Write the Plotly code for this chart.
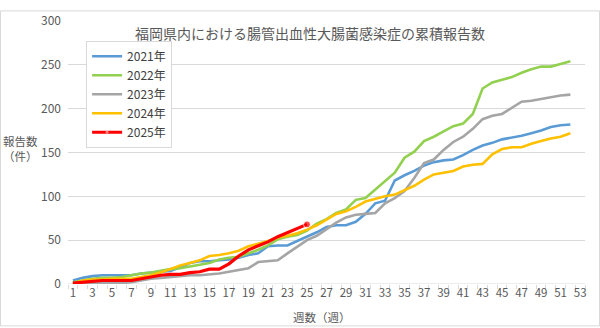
import plotly.graph_objects as go

weeks = list(range(1, 53))
weeks_2025 = list(range(1, 26))

y2021 = [4, 7, 9, 10, 10, 10, 10, 12, 13, 14, 15, 19, 24, 26, 26, 27, 28, 30, 33, 35,
         43, 44, 44, 49, 54, 59, 65, 67, 67, 71, 80, 92, 95, 118, 124, 129, 135, 139, 141, 142,
         147, 153, 158, 161, 165, 167, 169, 172, 175, 179, 181, 182]
y2022 = [2, 4, 6, 7, 7, 8, 10, 12, 13, 15, 17, 18, 20, 22, 24, 28, 30, 31, 35, 39,
         44, 51, 54, 56, 61, 69, 74, 81, 85, 96, 98, 108, 117, 127, 144, 151, 163, 168, 174, 180,
         183, 194, 223, 230, 233, 236, 241, 245, 248, 248, 251, 254]
y2023 = [1, 1, 1, 1, 1, 1, 2, 4, 6, 7, 8, 9, 10, 10, 11, 12, 14, 16, 18, 25,
         26, 27, 35, 43, 50, 55, 63, 70, 76, 79, 80, 81, 92, 98, 106, 121, 138, 142, 153, 162,
         168, 177, 188, 192, 194, 201, 208, 209, 211, 213, 215, 216]
y2024 = [0, 4, 5, 5, 6, 6, 6, 8, 10, 13, 17, 21, 24, 27, 32, 33, 35, 38, 43, 46,
         49, 53, 55, 58, 62, 67, 74, 80, 83, 88, 94, 97, 100, 102, 107, 112, 119, 125, 127, 129,
         134, 136, 137, 148, 154, 156, 156, 160, 163, 166, 168, 172]
y2025 = [1, 2, 3, 4, 4, 4, 4, 6, 8, 10, 11, 11, 13, 14, 17, 17, 23, 32, 39, 44,
         48, 54, 59, 63, 68]

series_names = ["2021年", "2022年", "2023年", "2024年", "2025年"]
colors = ["#5B9BD5", "#92D050", "#A5A5A5", "#FFC000", "#FF0000"]

x_ticks = list(range(1, 54, 2))
y_ticks = [0, 50, 100, 150, 200, 250, 300]

FONT = "Noto Sans CJK JP"
TXT = "#595959"

fig = go.Figure()
for name, ys, col in zip(series_names[:4], [y2021, y2022, y2023, y2024], colors[:4]):
    fig.add_trace(go.Scatter(x=weeks, y=ys, mode="lines", name=name,
                             line=dict(color=col, width=2.6)))

n = len(y2025)
fig.add_trace(go.Scatter(x=weeks_2025, y=y2025, mode="lines+markers", name=series_names[4],
                         line=dict(color=colors[4], width=3.2),
                         marker=dict(size=[0] * (n - 1) + [7], color=colors[4])))

fig.update_layout(
    width=600, height=328,
    margin=dict(l=68, r=15, t=11, b=44),
    paper_bgcolor="white", plot_bgcolor="white",
    font=dict(family=FONT, color=TXT, size=12),
    showlegend=True,
    legend=dict(x=0.035, y=0.925, xanchor="left", yanchor="top",
                bgcolor="white", bordercolor="#D9D9D9", borderwidth=1,
                font=dict(size=12, color="#404040"), tracegroupgap=0, itemwidth=30),
    xaxis=dict(range=[0.5, 53.5], tickvals=x_ticks, ticktext=[str(v) for v in x_ticks],
               showgrid=False, zeroline=False, showline=False, ticks="",
               tickfont=dict(size=11.5, color=TXT),
               minor=dict(tickvals=[k + 0.5 for k in range(0, 54)], ticks="outside",
                          ticklen=4, tickcolor="#D9D9D9", tickwidth=1, showgrid=False)),
    yaxis=dict(range=[0, 300], tickvals=y_ticks, showgrid=True, gridcolor="#D9D9D9",
               gridwidth=1, zeroline=False, showline=False, ticks="",
               tickfont=dict(size=12, color=TXT), ticklabelstandoff=6),
)

fig.add_annotation(text="福岡県内における腸管出血性大腸菌感染症の累積報告数",
                   xref="paper", yref="paper", x=(310 - 68) / 517, y=(284 - 23) / 273,
                   xanchor="center", yanchor="middle", showarrow=False,
                   font=dict(size=14, color=TXT, family=FONT))
fig.add_annotation(text="報告数<br>（件）", xref="paper", yref="paper",
                   x=(20 - 68) / 517, y=(284 - 143) / 273, xanchor="center", yanchor="middle",
                   showarrow=False, align="center", font=dict(size=11.5, color=TXT, family=FONT))
fig.add_annotation(text="週数（週）", xref="paper", yref="paper",
                   x=(322 - 68) / 517, y=(284 - 318) / 273, xanchor="center", yanchor="middle",
                   showarrow=False, font=dict(size=11.5, color=TXT, family=FONT))

# x-axis baseline
fig.add_shape(type="line", xref="paper", yref="y", x0=0, x1=1, y0=0, y1=0,
              line=dict(color="#D9D9D9", width=1), layer="below")
# chart-area border
fig.add_shape(type="rect", xref="paper", yref="paper",
              x0=(0.5 - 68) / 517, x1=(599.5 - 68) / 517,
              y0=(284 - 327.5) / 273, y1=(284 - 0.5) / 273,
              line=dict(color="#D9D9D9", width=1), fillcolor="rgba(0,0,0,0)")

fig.write_html("out.html")
